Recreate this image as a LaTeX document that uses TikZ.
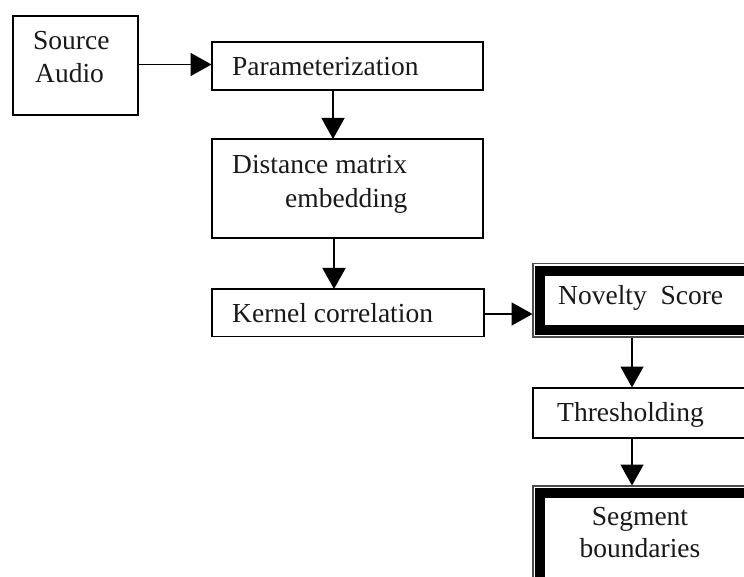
\documentclass[tikz,border=0pt]{standalone}
\usepackage{fontspec}
\setmainfont{Liberation Serif}
\usetikzlibrary{arrows.meta}
\tikzset{
  box/.style={draw=black, line width=1.6pt, fill=white, inner sep=0pt, anchor=north west},
  dbox/.style={draw=black!70, line width=1.5pt, fill=white, inner sep=0pt, anchor=north west},
  txt/.style={inner sep=0pt, anchor=base west, font=\fontsize{27.5pt}{33pt}\selectfont, text=black!90},
  ctxt/.style={inner sep=0pt, anchor=base, font=\fontsize{27.5pt}{33pt}\selectfont, text=black!90},
  arr/.style={line width=1.6pt, -{Triangle[length=21pt, width=23pt]}, shorten >=-0.5pt},
  thickband/.style={line width=10pt, black}
}
\begin{document}
\begin{tikzpicture}[x=1pt, y=-1pt]
\useasboundingbox (0,0) rectangle (744,577);
\clip (0,0) rectangle (744,577);
\fill[white] (0,0) rectangle (744,577);

% plain boxes
\node[box, minimum width=125pt, minimum height=99pt] (src) at (12,15) {};
\node[box, minimum width=271pt, minimum height=48pt] (param) at (211,41) {};
\node[box, minimum width=271pt, minimum height=99pt] (dist) at (211,138.5) {};
\node[box, minimum width=272pt, minimum height=47pt] (kern) at (211,288.5) {};
\node[box, minimum width=240pt, minimum height=50pt] (thr) at (532,387) {};

% double-framed boxes
\node[dbox, minimum width=240pt, minimum height=73pt] (nov) at (532,263) {};
\draw[thickband] ([shift={(8pt,-8pt)}]nov.north west) rectangle ([shift={(-8pt,8pt)}]nov.south east);
\node[dbox, minimum width=240pt, minimum height=110pt] (seg) at (532,485) {};
\draw[thickband] ([shift={(8pt,-8pt)}]seg.north west) rectangle ([shift={(-8pt,8pt)}]seg.south east);

% texts
\node[txt] (t1) at (33,50) {Source};
\node[txt] (t2) at (35,83) {Audio};
\node[txt] (t3) at (232,76) {Parameterization};
\node[txt] (t4) at (232,174) {Distance matrix};
\node[txt] (t5) at (285,208) {embedding};
\node[txt] (t6) at (232,323) {Kernel correlation};
\node[txt] (t7) at (558,305) {Novelty\ \ Score};
\node[txt] (t8) at (557,421) {Thresholding};
\node[ctxt] (t9) at (640,525) {Segment};
\node[ctxt] (t10) at (640,557) {boundaries};

% connector columns
\coordinate (c1) at (333,0);
\coordinate (c2) at (334,0);
\coordinate (c3) at (632,0);
\coordinate (c4) at (632,0);
\coordinate (r1) at (0,64.5);
\coordinate (r2) at (0,314);

% connectors
\draw[arr] (src.east |- r1) -- (param.west |- r1);
\draw[arr] (param.south -| c1) -- (dist.north -| c1);
\draw[arr] (dist.south -| c2) -- (kern.north -| c2);
\draw[arr] (kern.east |- r2) -- (nov.west |- r2);
\draw[arr] (nov.south -| c3) -- (thr.north -| c3);
\draw[arr] (thr.south -| c4) -- (seg.north -| c4);
\end{tikzpicture}
\end{document}
